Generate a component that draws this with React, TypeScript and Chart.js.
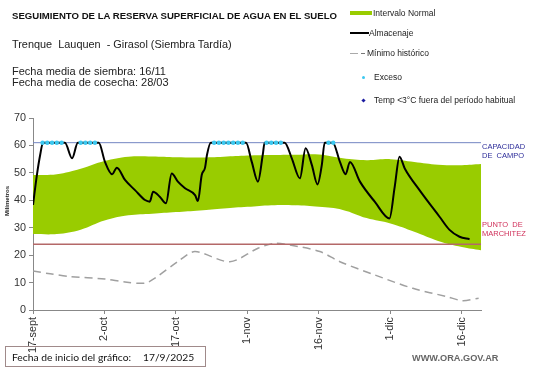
import React, { useEffect, useRef } from "react";
import { Chart, registerables } from "chart.js";

Chart.register(...registerables);

const FONT = "'Liberation Sans', Arial, sans-serif";

// X axis: days since 17-sept-2025
const tickDays = [0, 15, 30, 45, 60, 75, 90];
const tickLabels = ["17-sept", "2-oct", "17-oct", "1-nov", "16-nov", "1-dic", "16-dic"];
const xMax = 94;

// Intervalo Normal (band)
const bandDays = [0, 5, 10, 15, 20, 25, 30, 35, 40, 45, 50, 55, 60, 65, 70, 75, 80, 85, 90, 94];
const bandLower = [27.7, 27.7, 29.3, 32.6, 34.5, 35.1, 35.7, 36.3, 37.0, 37.6, 38.2, 38.2, 37.6, 36.5, 33.5, 31.5, 28.5, 25.2, 23.0, 21.8];
const bandUpper = [49.2, 49.5, 51.5, 54.3, 55.9, 56.0, 55.7, 55.6, 55.9, 56.3, 56.5, 56.6, 56.7, 55.3, 54.6, 55.0, 54.0, 53.0, 52.8, 53.2];

// Almacenaje
const almDays = [0, 0.8, 1.5, 2.1, 6.7, 8.2, 9.4, 13.8, 15.1, 16.6, 17.6, 19.3, 21.4, 23.5, 24.5, 25.2, 26.6, 27.9, 29.1, 30.4, 31.9, 34.0, 34.6, 35.4, 36.1, 36.5, 37.3, 44.7, 45.9, 47.2, 48.2, 48.6, 52.8, 54.3, 56.0, 57.2, 58.5, 59.7, 60.6, 61.2, 62.9, 64.4, 65.6, 66.5, 68.6, 71.7, 74.8, 75.9, 76.9, 78.0, 81.1, 85.3, 87.4, 89.5, 91.6];
const almValues = [38.3, 49, 56.5, 61, 61, 55.3, 61, 61, 54, 49.5, 51.9, 47.4, 43.7, 40.1, 39.5, 43.1, 41.3, 38.9, 49.8, 46.8, 44.4, 41.9, 39.7, 49.2, 51.9, 56.5, 61, 61, 54, 46.8, 56.5, 61, 61, 55.3, 48, 59, 52.9, 45.8, 52.9, 61, 61, 54, 49.5, 54, 46.8, 39.5, 33.4, 45, 55.9, 51.6, 43.7, 34, 29.2, 26.7, 25.8];

// Mínimo histórico
const minDays = [0, 3.6, 7.8, 15.1, 19.3, 23.5, 25.5, 30.8, 34.0, 41.3, 47.2, 50.7, 53.9, 60.2, 64.4, 71.7, 79.7, 86.8, 90.1, 93.5];
const minValues = [14.2, 13.2, 12.2, 11.3, 10.2, 9.8, 11.5, 18.2, 21.3, 17.6, 22.5, 24.3, 23.7, 21.3, 17.6, 12.8, 7.9, 4.9, 3.4, 4.3];

// Exceso
const excesoDays = [2, 3, 4, 5, 6, 10, 11, 12, 13, 38, 39, 40, 41, 42, 43, 44, 49, 50, 51, 52, 62, 63];
const excesoValue = 61;

const capacidadCampo = 61;
const puntoMarchitez = 24;

const pts = (xs: number[], ys: number[]) => xs.map((x, i) => ({ x, y: ys[i] }));

function ChartCanvas() {
  const ref = useRef<HTMLCanvasElement | null>(null);
  useEffect(() => {
    if (!ref.current) return;
    const chart = new Chart(ref.current, {
      type: "line",
      data: {
        datasets: [
          {
            label: "Exceso",
            data: excesoDays.map((d) => ({ x: d, y: excesoValue })),
            showLine: false,
            pointRadius: 2.2,
            pointBorderWidth: 0,
            pointBackgroundColor: "#3cc8f0",
            borderColor: "#3cc8f0",
          },
          {
            label: "Almacenaje",
            data: pts(almDays, almValues),
            borderColor: "#000",
            borderWidth: 2,
            pointRadius: 0,
            cubicInterpolationMode: "monotone",
            fill: false,
          },
          {
            label: "Capacidad",
            data: [{ x: 0, y: capacidadCampo }, { x: xMax, y: capacidadCampo }],
            borderColor: "#7385c2",
            borderWidth: 1,
            pointRadius: 0,
            fill: false,
          },
          {
            label: "Marchitez",
            data: [{ x: 0, y: puntoMarchitez }, { x: xMax, y: puntoMarchitez }],
            borderColor: "#b46868",
            borderWidth: 1.5,
            pointRadius: 0,
            fill: false,
          },
          {
            label: "Mínimo histórico",
            data: pts(minDays, minValues),
            borderColor: "#a0a0a0",
            borderWidth: 1.5,
            borderDash: [8, 5],
            pointRadius: 0,
            tension: 0.3,
            fill: false,
          },
          {
            label: "lower",
            data: pts(bandDays, bandLower),
            borderWidth: 0,
            borderColor: "rgba(0,0,0,0)",
            pointRadius: 0,
            tension: 0.4,
            fill: false,
          },
          {
            label: "Intervalo Normal",
            data: pts(bandDays, bandUpper),
            borderWidth: 0,
            borderColor: "rgba(0,0,0,0)",
            backgroundColor: "#99cc00",
            pointRadius: 0,
            tension: 0.4,
            fill: "-1",
          },
        ],
      },
      options: {
        animation: false,
        responsive: false,
        maintainAspectRatio: false,
        layout: { padding: { left: 0, top: 118, right: 60, bottom: 0 } },
        plugins: {
          legend: { display: false },
          tooltip: { enabled: false },
          title: { display: false },
        },
        scales: {
          x: {
            type: "linear",
            min: 0,
            max: xMax,
            afterBuildTicks: (s: any) => {
              s.ticks = tickDays.map((v) => ({ value: v }));
            },
            afterFit: (s: any) => {
              s.height = 58;
            },
            ticks: {
              autoSkip: false,
              minRotation: 90,
              maxRotation: 90,
              padding: 3,
              color: "#333",
              font: { family: FONT, size: 10.8 },
              callback: (v: any) => {
                const i = tickDays.indexOf(Number(v));
                return i >= 0 ? tickLabels[i] : "";
              },
            },
            grid: { drawOnChartArea: false, drawTicks: true, tickLength: 4, color: "#888" },
            border: { display: true, color: "#888", width: 1 },
          },
          y: {
            min: 0,
            max: 70,
            afterFit: (s: any) => {
              s.width = 33;
            },
            ticks: {
              stepSize: 10,
              padding: 3,
              color: "#333",
              font: { family: FONT, size: 10.8 },
            },
            grid: { drawOnChartArea: false, drawTicks: true, tickLength: 4, color: "#888" },
            border: { display: true, color: "#888", width: 1 },
          },
        },
      },
    } as any);
    return () => chart.destroy();
  }, []);
  return <canvas ref={ref} width={541} height={368} style={{ position: "absolute", left: 0, top: 0, width: 541, height: 368 }} />;
}

const abs = (left: number, top: number, extra: React.CSSProperties = {}): React.CSSProperties => ({
  position: "absolute",
  left,
  top,
  whiteSpace: "nowrap",
  lineHeight: 1,
  ...extra,
});

export default function App() {
  const legendFont: React.CSSProperties = { fontFamily: FONT, fontSize: 8.5, color: "#222" };
  return (
    <div style={{ position: "absolute", left: 0, top: 0, width: 541, height: 368, background: "#fff", fontFamily: FONT, overflow: "hidden" }}>
      <ChartCanvas />
      <div style={abs(12, 10.5, { fontSize: 9.6, fontWeight: "bold", color: "#111" })}>
        SEGUIMIENTO DE LA RESERVA SUPERFICIAL DE AGUA EN EL SUELO
      </div>
      <div style={abs(12, 39, { fontSize: 10.9, color: "#222" })}>Trenque&nbsp; Lauquen&nbsp; - Girasol (Siembra Tardía)</div>
      <div style={abs(12, 65.5, { fontSize: 11, color: "#222" })}>Fecha media de siembra: 16/11</div>
      <div style={abs(12, 76.5, { fontSize: 11, color: "#222" })}>Fecha media de cosecha: 28/03</div>

      {/* legend */}
      <div style={abs(350, 11, { width: 22, height: 4, background: "#99cc00" })} />
      <div style={abs(373, 8.5, legendFont)}>Intervalo Normal</div>
      <div style={abs(350, 32, { width: 19, height: 2, background: "#000" })} />
      <div style={abs(369, 29, legendFont)}>Almacenaje</div>
      <div style={abs(350, 52.5, { width: 8, height: 1.5, background: "#aaa" })} />
      <div style={abs(361, 52.5, { width: 4, height: 1.5, background: "#777" })} />
      <div style={abs(367, 49, legendFont)}>Mínimo histórico</div>
      <div style={abs(361.5, 75.5, { width: 3.5, height: 3.5, borderRadius: 2, background: "#3cc8f0" })} />
      <div style={abs(374, 73, legendFont)}>Exceso</div>
      <div style={abs(361.5, 98.5, { width: 3, height: 3, background: "#1a1aa0", transform: "rotate(45deg)" })} />
      <div style={abs(374, 96, legendFont)}>Temp &lt;3°C fuera del período habitual</div>

      {/* reference line labels */}
      <div style={abs(482, 141.5, { fontSize: 7.5, color: "#2d2d9a", lineHeight: "9px" })}>
        CAPACIDAD
        <br />
        DE&nbsp; CAMPO
      </div>
      <div style={abs(482, 219.5, { fontSize: 7.5, color: "#d0305a", lineHeight: "9px" })}>
        PUNTO&nbsp; DE
        <br />
        MARCHITEZ
      </div>

      {/* y axis title */}
      <div style={abs(7, 201, { fontSize: 6, fontWeight: "bold", color: "#222", transform: "translate(-50%, -50%) rotate(-90deg)" })}>
        Milímetros
      </div>

      {/* bottom box */}
      <div style={abs(5, 346, { width: 199, height: 19, border: "1px solid #a08a8a", boxSizing: "content-box" })} />
      <div style={abs(12, 352, { fontFamily: "Lato, sans-serif", fontSize: 10.3, color: "#111" })}>Fecha de inicio del gráfico:</div>
      <div style={abs(143, 352, { fontFamily: "Lato, sans-serif", fontSize: 10.3, color: "#111" })}>17/9/2025</div>

      <div style={abs(412, 354, { fontSize: 9.2, fontWeight: "bold", color: "#666" })}>WWW.ORA.GOV.AR</div>
    </div>
  );
}
